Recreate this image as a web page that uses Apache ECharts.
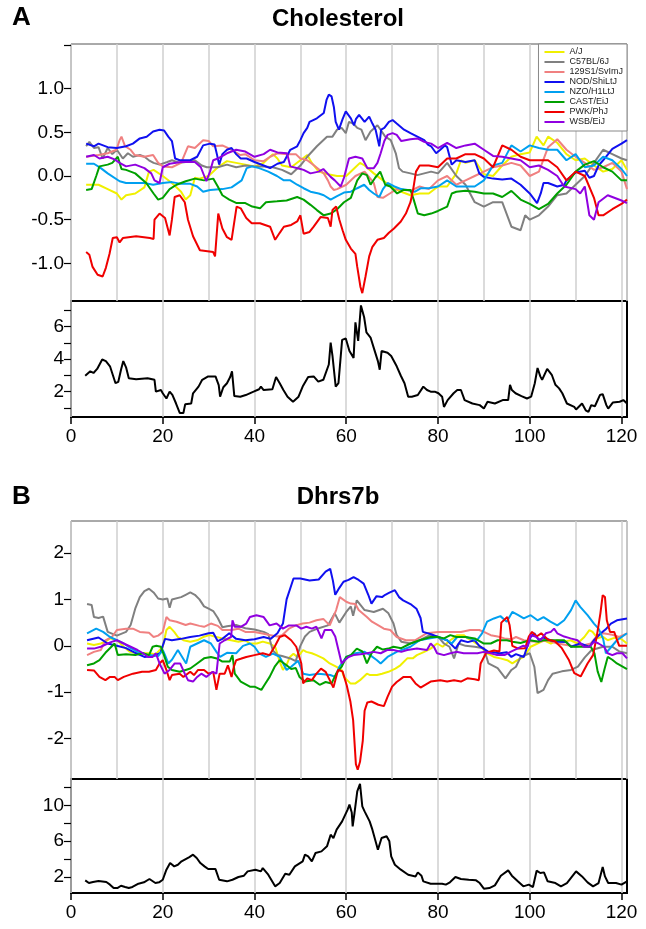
<!DOCTYPE html>
<html>
<head>
<meta charset="utf-8">
<script src="https://cdn.jsdelivr.net/npm/echarts@6/dist/echarts.min.js"></script>
<style>
  html, body { margin: 0; padding: 0; background: #fff; }
  #chart { width: 646px; height: 929px; }
</style>
</head>
<body>
<div id="chart"></div>
<script>
// founder strains (legend order)
const strainNames = ['A/J', 'C57BL/6J', '129S1/SvImJ', 'NOD/ShiLtJ', 'NZO/H1LtJ', 'CAST/EiJ', 'PWK/PhJ', 'WSB/EiJ'];
const strainColors = ['#F0F000', '#808080', '#F08080', '#1010F0', '#00A0F0', '#00A000', '#F00000', '#9000E0'];

// ---- Panel A: Cholesterol, founder effects ([Mb, effect]) ----
const ajA = [[3.3,-0.1],[6,-0.1],[8,-0.15],[10,-0.2],[11,-0.27],[12,-0.22],[14,-0.2],[16,-0.13],[17,0.05],[18,0.07],[20,0],[22,-0.08],[24,-0.18],[25,-0.27],[26,-0.22],[27,-0.02],[28,-0.03],[30,0],[32,0.1],[34,0.17],[36,0.15],[38,0.13],[40,0.11],[42,0.15],[44,0.25],[45,0.2],[46,0.12],[48,0.1],[50,0.18],[51.5,0.24],[52.5,0.15],[54,0.05],[56,0.02],[58,0],[60,0],[62,0.1],[63,0.15],[64,0.12],[66,0.03],[68,-0.05],[69.7,-0.12],[72,-0.18],[74,-0.22],[76,-0.2],[78,-0.2],[80,-0.12],[82,-0.12],[84,0.03],[85,0.18],[86,0.15],[88,0.18],[90,0.02],[92,0],[94,0.12],[96,0.22],[98,0.25],[100,0.27],[101.5,0.45],[103,0.35],[104,0.45],[106,0.38],[108,0.25],[110,0.18],[112,0.2],[114,0.12],[116,0.05],[118,0.08],[120,0.18],[121.2,0.07]];
const b6A = [[3.3,0.34],[4,0.39],[5,0.32],[6,0.33],[6.9,0.2],[8,0.32],[9,0.25],[10,0.3],[11.3,0.2],[12.4,0.26],[13.5,0.22],[15,0.24],[16,0.22],[17,0.18],[18,0.15],[19.3,0.13],[21,0.16],[22,0.18],[23.7,0.15],[25,0.16],[27,0.18],[28.5,0.12],[29.6,0.1],[32,0.1],[34,0.13],[36,0.1],[38,0.12],[40,0.11],[42,0.11],[44,0.1],[46,0.07],[48,0.02],[50,0.12],[51.5,0.22],[53.6,0.34],[55.8,0.45],[57,0.45],[58,0.53],[59,0.55],[59.9,0.49],[60.6,0.62],[61.5,0.6],[62.4,0.55],[63.3,0.53],[64.2,0.41],[65.3,0.51],[66.8,0.58],[67.6,0.52],[68.5,0.45],[69.7,0.41],[70.8,0.26],[71.5,0.09],[72.3,0.05],[74,0.03],[75.5,0.01],[77,0.03],[78.5,0.05],[80,0.03],[82,0.15],[84,0],[86,-0.1],[88,-0.3],[90,-0.35],[92,-0.3],[94,-0.3],[96,-0.58],[98,-0.62],[99,-0.45],[100,-0.5],[102,-0.45],[104,-0.35],[106,-0.22],[108,-0.2],[110,-0.1],[112,0],[114,0.15],[116,0.3],[118,0.25],[120,0.2],[121.2,0.18]];
const s129A = [[3.3,0.22],[6,0.24],[8,0.26],[9.9,0.3],[10.6,0.41],[11,0.45],[11.8,0.34],[13,0.3],[13.9,0.24],[16,0.22],[17.9,0.24],[19,0.15],[20,0.11],[22,0.1],[24,0.15],[25.5,0.34],[27,0.32],[28.8,0.41],[30,0.4],[31,0.34],[33,0.35],[35,0.3],[36.9,0.24],[38,0.25],[40,0.18],[42,0.17],[43.4,0.22],[45,0.26],[47,0.25],[49,0.25],[50,0.2],[51.5,0.18],[53,0.12],[55.1,0.03],[56,-0.05],[56.6,-0.12],[57.3,-0.16],[58,-0.15],[60,-0.1],[62,0],[64,0.05],[66,-0.08],[66.8,-0.24],[68,-0.25],[69.5,-0.2],[71,-0.15],[74,-0.17],[76,-0.12],[78,-0.15],[80,-0.05],[82,0],[84,-0.1],[86,-0.05],[88,0],[90,0.05],[92,0.1],[94,0.12],[96,0.15],[98,0.12],[100,0],[102,0.05],[104,0.33],[106,0.42],[108,0.3],[110,0.22],[112,0.15],[114,0.07],[116,0.1],[118,0.15],[120,0.05],[121.2,-0.15]];
const nodA = [[3.3,0.37],[5,0.34],[6,0.37],[8,0.33],[10,0.32],[12,0.34],[13.5,0.37],[15,0.43],[16.5,0.45],[17.9,0.51],[19.3,0.53],[20.3,0.52],[21.2,0.45],[22,0.4],[22.7,0.2],[23.7,0.18],[26,0.18],[27.5,0.22],[28.8,0.35],[30.3,0.37],[31.3,0.36],[31.8,0.25],[32.3,0.13],[33,0.25],[34,0.3],[35,0.32],[36,0.25],[37,0.2],[38.3,0.2],[40,0.16],[42,0.12],[43.4,0.09],[45,0.14],[46.4,0.16],[47.8,0.3],[49.3,0.34],[50,0.41],[50.7,0.49],[51.5,0.55],[52,0.62],[53.6,0.66],[55.1,0.72],[55.7,0.87],[56.2,0.93],[56.8,0.91],[57.3,0.79],[57.7,0.62],[58.4,0.53],[59.2,0.65],[59.9,0.74],[61,0.66],[61.7,0.58],[62.1,0.65],[62.8,0.7],[64,0.62],[65,0.68],[65.7,0.6],[66.4,0.53],[67.2,0.34],[67.6,0.53],[68.3,0.55],[69.3,0.62],[70.1,0.64],[71,0.6],[72.6,0.53],[74,0.49],[75.5,0.45],[77,0.41],[77.8,0.36],[78.5,0.34],[79.6,0.26],[80.5,0.3],[81.5,0.35],[82,0.33],[83,0.13],[84,0.18],[86,0.16],[88,0.18],[89,0.03],[90,-0.01],[92,-0.03],[94,-0.04],[96,-0.03],[98,-0.1],[100,-0.2],[101.6,-0.31],[102.4,-0.2],[103,-0.08],[104,-0.08],[106,-0.12],[107.5,-0.1],[108,-0.05],[110,0.04],[112,0.06],[113,-0.02],[114,0],[115,0.12],[116,0.18],[118,0.31],[120,0.37],[121.2,0.41]];
const nzoA = [[3.3,0.14],[5,0.14],[6.5,0.09],[8,0.03],[10.6,-0.06],[12,-0.08],[16,-0.08],[17.9,-0.1],[20,-0.08],[22,-0.07],[24,-0.09],[26,-0.09],[27.5,-0.12],[28.8,-0.18],[30.3,-0.16],[33,-0.15],[35,-0.13],[37.2,-0.05],[38.3,0.09],[39.5,0.11],[41,0.09],[43,0.05],[44.9,0.0],[46.4,-0.05],[47.8,-0.05],[49.3,-0.1],[50.7,-0.14],[52.2,-0.18],[54,-0.2],[55.1,-0.22],[56.6,-0.27],[58,-0.23],[59.5,-0.19],[61,-0.18],[62.4,-0.14],[63.9,-0.1],[65,-0.16],[66,-0.2],[67.2,-0.24],[68,-0.15],[69,-0.08],[70.5,-0.12],[72,-0.15],[73.4,-0.16],[75,-0.18],[76.3,-0.14],[78,-0.14],[80,-0.12],[82,-0.05],[84,-0.12],[86,-0.12],[88,-0.12],[90,-0.05],[92,0.12],[94,0.15],[96,0.35],[98,0.28],[100,0.35],[102,0.32],[104,0.3],[106,0.3],[108,0.18],[110,0.25],[112,0.1],[114,0.12],[116,0.22],[118,0.18],[120,0.08],[121.2,0]];
const castA = [[3.3,-0.16],[4.5,-0.15],[5.5,0],[6.2,0.11],[8,0.13],[9,0.15],[10.2,0.22],[11,0.08],[12,0.07],[14,0.03],[16.4,-0.08],[18,-0.2],[19,-0.27],[20,-0.25],[21.5,-0.15],[23,-0.1],[25,-0.06],[27,-0.03],[29,-0.05],[31,-0.03],[32,-0.12],[33,-0.22],[34.5,-0.27],[36.1,-0.31],[38,-0.31],[39.5,-0.35],[41.2,-0.37],[42.5,-0.3],[44.9,-0.29],[47,-0.28],[49.3,-0.24],[50.7,-0.27],[52.2,-0.33],[53.6,-0.39],[55.1,-0.45],[56.6,-0.43],[58,-0.38],[59.5,-0.3],[61,-0.25],[62.4,-0.05],[63.5,0.03],[64.5,0.01],[65.3,-0.1],[66.3,-0.02],[67.4,0.05],[68.5,-0.1],[69.6,-0.12],[71.1,-0.2],[72.5,-0.16],[74,-0.16],[74.7,-0.27],[75.6,-0.43],[77,-0.45],[78.5,-0.43],[80,-0.4],[82,-0.35],[83,-0.2],[84,-0.18],[86,-0.17],[88,-0.18],[90,-0.2],[92,-0.2],[94,-0.24],[96,-0.17],[98,-0.27],[100,-0.32],[102,-0.38],[104,-0.32],[106,-0.2],[108,-0.1],[110,0.05],[112,0.13],[114,0.17],[116,0.1],[118,0.05],[120,-0.05],[121.2,-0.05]];
const pwkA = [[3.3,-0.87],[4,-0.9],[4.7,-1.04],[5.8,-1.13],[6.9,-1.15],[7.6,-1.05],[8.4,-0.89],[9.1,-0.71],[10,-0.7],[10.6,-0.76],[11.3,-0.71],[14.2,-0.69],[17.2,-0.71],[18,-0.72],[18.2,-0.5],[19.3,-0.43],[20.5,-0.48],[21.5,-0.68],[22,-0.5],[22.6,-0.24],[23.7,-0.22],[24.8,-0.3],[25.5,-0.5],[26.6,-0.69],[28.1,-0.85],[31,-0.87],[31.4,-0.92],[32.1,-0.43],[33,-0.6],[34,-0.7],[35,-0.73],[36.1,-0.35],[37,-0.37],[38.2,-0.48],[39.4,-0.54],[41.2,-0.54],[43.4,-0.58],[44.5,-0.73],[45.5,-0.65],[46.4,-0.58],[48,-0.56],[49.3,-0.52],[50,-0.45],[50.7,-0.66],[52,-0.64],[52.9,-0.58],[54.4,-0.47],[56,-0.48],[56.6,-0.58],[57,-0.39],[57.8,-0.35],[58.5,-0.5],[59.2,-0.62],[59.9,-0.73],[61,-0.83],[62,-0.89],[62.4,-1.04],[63.1,-1.27],[63.5,-1.34],[64.2,-1.15],[65,-0.92],[65.7,-0.81],[66.8,-0.73],[68.2,-0.71],[69.3,-0.65],[70.4,-0.6],[71.9,-0.52],[73,-0.43],[74,-0.3],[74.6,-0.15],[75.2,0.05],[76,0.12],[78,0.12],[80,0.1],[82,0.2],[84,0.2],[86,0.25],[88,0.25],[90,0.2],[92,0.1],[94,0.35],[96,0.3],[98,0.22],[100,0.18],[102,0.18],[104,0.18],[106,0.1],[108,-0.05],[110,0.05],[112,0],[114,-0.25],[115,-0.45],[116,-0.45],[118,-0.38],[120,-0.32],[121.2,-0.27]];
const wsbA = [[3.3,0.22],[5,0.24],[6.2,0.2],[8,0.22],[9.5,0.19],[10.6,0.15],[12,0.11],[14,0.13],[16,0.09],[17.5,0.03],[18.2,-0.05],[19.3,-0.08],[20,0.1],[21.5,0.14],[24,0.16],[25.9,0.16],[27,0.16],[28.3,0.1],[29.5,-0.06],[30.3,0.05],[31,0.18],[32,0.2],[34,0.26],[36,0.3],[38,0.28],[40,0.22],[42,0.25],[43.4,0.3],[45,0.27],[47.1,0.26],[47.8,0.11],[50,0.08],[50.7,0.07],[52.2,0.03],[54,0.05],[55,0.08],[56.6,-0.01],[57.5,-0.05],[58.8,-0.12],[59.5,-0.02],[60.6,0.2],[62,0.22],[63.5,0.2],[64.6,0.09],[66,0.09],[66.8,0.15],[67.5,0.26],[68.3,0.4],[69,0.47],[70.1,0.49],[71,0.47],[72,0.4],[74,0.42],[75.5,0.43],[77,0.39],[78.5,0.37],[80,0.32],[82,0.38],[84,0.32],[86,0.35],[88,0.37],[90,0.3],[92,0.23],[94,0.22],[96,0.2],[98,0.18],[100,0.1],[102,0.12],[104,0.07],[106,0],[107.5,-0.12],[110,-0.15],[111,-0.2],[112,-0.12],[113,-0.45],[114,-0.5],[115,-0.3],[117,-0.22],[118,-0.24],[120,-0.28],[121.2,-0.31]];

// Panel A: LOD profile
const lodA = [[3.1,2.98],[3.5,2.9],[4.2,3.25],[4.9,3.15],[5.7,3.4],[6.8,3.98],[7.6,3.88],[8.5,3.56],[9.7,2.52],[10.3,2.6],[10.9,3.35],[11.4,3.88],[12,3.5],[12.6,2.83],[14.2,2.77],[16.7,2.83],[18.2,2.73],[18.5,2],[19.6,2.1],[20,1.9],[20.8,1.58],[21.5,2],[22.1,1.8],[22.9,1.27],[23.7,0.69],[24.5,0.69],[24.9,1.23],[26.2,1.27],[26.6,1.9],[27.8,2.31],[28.6,2.73],[29.9,2.94],[31.5,2.94],[32.2,2.4],[32.5,1.69],[33.2,2.27],[34,2.52],[34.7,2.9],[35.1,3.25],[35.6,1.73],[36.9,1.69],[38.1,1.79],[39.8,2],[41,2.15],[41.4,2.31],[42,2.1],[43.9,2.15],[44.7,2.9],[45.5,2.52],[46.3,2.1],[47.2,1.69],[48.4,1.38],[49.6,1.69],[50.5,2.31],[51.7,2.9],[52.9,2.94],[53.9,2.62],[55,2.73],[56.2,3.67],[56.6,5.02],[57,4.2],[57.7,2.31],[58.3,2.52],[59.1,5.19],[59.9,5.27],[60.7,4.5],[61.6,4.08],[62,6.27],[62.6,5.13],[63.2,7.31],[63.9,6.58],[64.4,5.65],[65.3,5.33],[66.1,4.6],[66.9,3.88],[67.3,3.35],[67.7,4.5],[69,4.4],[69.8,4.19],[71,3.56],[71.9,2.98],[72.7,2.52],[73.5,1.69],[74.3,1.69],[75.6,1.79],[76.8,2.31],[77.6,2.1],[78.4,2],[79.3,2],[80.1,1.9],[80.9,1.69],[81.3,1.06],[82.1,1.48],[83.4,1.9],[84.2,2.1],[85,2.1],[85.8,1.48],[87.5,1.27],[89.1,1.17],[90,0.96],[90.8,1.38],[92.4,1.27],[94.1,1.48],[95.3,1.48],[95.7,2.42],[96.1,2.1],[96.9,1.9],[98.2,1.73],[99.4,1.58],[100.3,1.69],[101.1,2.52],[101.7,3.46],[102.3,2.94],[102.7,2.73],[103.8,3.4],[104.8,3.04],[105.6,2.42],[106.4,2.2],[107.1,1.9],[108.1,1.27],[109.7,1.06],[110.1,0.9],[111.4,1.27],[112.2,0.85],[112.8,0.75],[113.4,1.17],[114.2,1.1],[115.3,1.79],[115.9,1.85],[116.7,1.17],[117.1,0.96],[118.1,1.33],[119.6,1.38],[120.4,1.48],[121.2,1.27]];

// ---- Panel B: Dhrs7b, founder effects ----
const ajB = [[3.5,0.05],[5,0.02],[6.5,0.05],[7.5,0.09],[8.5,0.16],[10,0.12],[11.5,-0.02],[12.8,-0.13],[14.5,-0.16],[17,-0.16],[18.5,-0.18],[20,-0.02],[20.8,0.34],[21.5,0.41],[22.5,0.3],[23.3,0.19],[24.5,0.12],[26,0.09],[27.5,0.12],[28.8,0.19],[30.2,0.23],[31.7,0.19],[33,0.16],[34.9,0.12],[36.5,0.09],[38,0.12],[39,0.05],[40.5,0.05],[41.8,0.09],[43.3,0.05],[44.5,-0.02],[45.5,-0.34],[46.2,-0.52],[47,-0.41],[47.7,-0.24],[48.5,-0.17],[49.3,-0.24],[50,-0.17],[50.6,-0.09],[51.3,-0.13],[52.5,-0.16],[53.5,-0.2],[55,-0.27],[56.4,-0.38],[57.8,-0.45],[59,-0.52],[59.5,-0.67],[60.9,-0.81],[62,-0.81],[63,-0.74],[64.5,-0.6],[65.2,-0.63],[66.7,-0.63],[67.8,-0.6],[69.2,-0.56],[70.7,-0.49],[71.8,-0.42],[73.3,-0.27],[74.5,-0.27],[75.4,-0.2],[77,-0.13],[78.4,-0.06],[79.8,0.05],[81,-0.02],[82.7,0.12],[84.2,0.23],[85.6,0.23],[86.5,0.16],[87.8,0.09],[89.3,-0.02],[90.7,-0.16],[92.2,-0.24],[93.6,-0.27],[95.1,-0.31],[96.2,-0.38],[97.3,-0.31],[98.7,-0.24],[100.2,-0.02],[101.7,0.05],[103.1,0.12],[104.6,0.05],[106,0.12],[107.5,0.09],[108.9,0.12],[110.4,0.05],[111.9,0.19],[113,0.34],[113.7,0.3],[114.8,0.16],[115.9,0.2],[117,0.12],[118.1,0.16],[119.2,0.19],[120.3,0.12],[121.2,0.05]];
const b6B = [[3.5,0.9],[4.5,0.88],[5,0.62],[6,0.6],[7,0.63],[8,0.3],[10,0.22],[12,0.3],[13,0.45],[14,0.8],[15,1.05],[16,1.18],[17,1.23],[18,1.15],[19,1.02],[20,1],[21,1.02],[21.5,0.82],[22,1],[24,1.05],[25,1.1],[26,1.15],[27,1.1],[28,1],[29,0.85],[30,0.8],[31,0.75],[32,0.6],[33,0.4],[34,0.42],[36,0.45],[38,0.38],[40,0.35],[42,0.3],[43,0.25],[44,-0.1],[45,-0.2],[46,-0.22],[48,-0.28],[49,-0.33],[50,0],[51,0.2],[52,0.3],[54,0.38],[56,0.44],[57.5,0.7],[58.5,0.5],[60,0.73],[61,0.85],[61.5,0.65],[62.3,0.98],[64,0.77],[66,0.73],[68,0.8],[69.2,0.7],[70.3,0.48],[71,0.23],[72,0.09],[74,0.05],[76,0.12],[78,0.22],[80,0.2],[81.3,0.05],[82.5,-0.02],[83.5,-0.27],[84.5,0.05],[86,0],[88,-0.02],[90,-0.05],[91,-0.38],[93,-0.48],[94.7,-0.7],[96,-0.52],[97,-0.45],[98,-0.24],[100,-0.16],[101,-0.45],[101.7,-1.02],[103,-0.95],[104,-0.74],[105,-0.6],[107,-0.55],[109,-0.52],[110.5,-0.45],[112,-0.25],[113.5,-0.09],[116,-0.02],[118,-0.02],[119.5,-0.12],[121.2,-0.16]];
const s129B = [[3.5,-0.2],[5,-0.13],[6.5,-0.09],[7.5,0.12],[9,0.2],[10,0.34],[12,0.37],[13.5,0.37],[15,0.3],[17,0.28],[18,0.19],[19,0.22],[20,0.3],[20.8,0.62],[21.5,0.55],[23,0.52],[25,0.45],[26,0.48],[28,0.43],[29,0.41],[30.5,0.48],[32,0.43],[33,0.34],[35,0.34],[36.5,0.37],[38,0.3],[40,0.3],[42,0.26],[43.5,0.23],[45,0.2],[46,0.23],[47.5,0.37],[49,0.44],[50.5,0.48],[52,0.5],[53.5,0.55],[55,0.58],[56.4,0.44],[57.8,0.77],[58.6,1.05],[60,0.95],[61,0.91],[62,0.9],[62.7,0.77],[64.5,0.62],[65.6,0.52],[67,0.44],[68.2,0.37],[69.6,0.34],[71,0.19],[73,0.12],[75,0.12],[77.5,0.27],[80,0.3],[83,0.3],[85,0.3],[87,0.34],[89,0.34],[90,0.3],[91.5,0.23],[93,0.2],[94.5,0.16],[96,0.14],[97,0.19],[98.7,0.12],[100,0.1],[102,0.09],[104,0.12],[106,0.05],[108,0.02],[110,-0.02],[112,0.02],[113.3,0.05],[114.8,0.23],[116,0.27],[118,0.24],[119.5,0.19],[121.2,0.27]];
const nodB = [[3.5,0.12],[6,0.18],[8,0.05],[10,0],[12,-0.05],[14,-0.15],[16,-0.24],[18,-0.22],[19.5,-0.15],[20.5,0.15],[22,0.12],[24,0.15],[26,0.19],[28,0.22],[30,0.27],[31,0.28],[32,0.1],[33,0.15],[34.5,0.27],[36,0.15],[38,0.12],[40,0.14],[42,0.19],[43.5,0.15],[45,0.27],[46.2,0.48],[47,1],[48,1.3],[48.5,1.45],[50,1.45],[52,1.41],[54,1.43],[55.5,1.6],[56.5,1.66],[57.1,1.4],[57.6,1.1],[58.5,1.25],[59.4,1.38],[60.5,1.42],[61.6,1.48],[62.7,1.42],[63.8,1.34],[64.8,1.1],[65.5,0.91],[66.6,1.07],[67.8,1.05],[68.5,1.1],[69.3,1.14],[70.6,1.2],[71.5,1.05],[72.4,0.98],[74,0.9],[75.3,0.8],[76.2,0.6],[76.7,0.3],[78.5,0.25],[80,0.19],[82,0.12],[83.8,-0.06],[85,0.12],[86.5,0.08],[88,0.12],[89,0],[91,-0.13],[93.5,-0.16],[95,-0.14],[96,-0.24],[97,-0.18],[98.7,-0.24],[99.5,0],[100.2,0.19],[101,0.27],[102,0.12],[103,0.18],[104.5,0.12],[106,0.09],[108,0.08],[109,-0.02],[111,0.05],[113,-0.02],[114,0.12],[115.5,0.27],[116.5,0.35],[117.7,0.48],[119,0.55],[121.2,0.59]];
const nzoB = [[3.5,0.27],[5.5,0.37],[7,0.3],[8.5,0.19],[10,0.12],[11.5,0.05],[13,-0.05],[14.5,-0.13],[17,-0.2],[19,-0.22],[20,-0.09],[20.5,-0.2],[21.2,-0.38],[22,-0.3],[23.3,-0.09],[24.3,-0.25],[25.1,-0.38],[26,-0.02],[27.5,0.05],[29,0.12],[30.5,0.05],[31.7,-0.13],[32.5,-0.24],[34,-0.15],[36,-0.16],[37.5,0],[39,0.05],[40,-0.02],[41,-0.16],[42.5,-0.24],[44,-0.17],[45.5,-0.24],[47,-0.52],[48,-0.45],[49.5,-0.32],[50.6,-0.6],[52,-0.63],[54,-0.6],[56.5,-0.63],[57.6,-0.67],[58.5,-0.45],[60,-0.24],[61,-0.2],[62,-0.16],[64,-0.13],[65.2,-0.2],[66.7,-0.31],[67.5,-0.38],[69,-0.24],[71,-0.13],[74,-0.02],[76,0.12],[78,0.16],[80,0.19],[82,0.12],[83,0.05],[84.2,0.19],[86,0.19],[88.5,0.12],[89.6,0.27],[90.7,0.52],[92.2,0.59],[93.6,0.64],[95,0.52],[96.2,0.73],[97.5,0.66],[98.7,0.59],[100.2,0.66],[101.7,0.55],[103,0.62],[104.5,0.52],[106,0.44],[107.5,0.55],[109,0.77],[110,0.98],[111,0.84],[112.6,0.66],[114,0.48],[115,0.37],[116,0.15],[116.6,-0.16],[117.8,-0.02],[119,0.12],[121.2,0.27]];
const castB = [[3.5,-0.42],[5,-0.38],[6.2,-0.31],[7.5,-0.15],[8.8,-0.02],[9.5,0.05],[10.2,-0.2],[12,-0.18],[14,-0.2],[15.7,-0.16],[17,-0.2],[17.8,-0.02],[18.6,0],[19.6,-0.02],[20.4,-0.24],[21.1,-0.45],[22,-0.52],[23.7,-0.56],[25,-0.52],[26,-0.49],[27.5,-0.38],[29,-0.27],[30.5,-0.24],[32,-0.28],[33,-0.34],[34.6,-0.34],[35.2,-0.2],[35.7,-0.6],[37,-0.77],[39,-0.88],[40,-0.88],[41.5,-0.95],[42.2,-0.84],[43.3,-0.67],[44.4,-0.45],[45.5,-0.31],[47,-0.42],[48,-0.5],[49,-0.48],[49.8,-0.67],[51,-0.77],[52.8,-0.74],[54.2,-0.84],[55.5,-0.78],[56.8,-0.81],[57.8,-0.6],[59,-0.45],[60,-0.24],[61,-0.2],[62.3,-0.06],[63.5,-0.12],[64.5,-0.38],[65.5,-0.16],[66.7,-0.02],[68,-0.08],[69.2,-0.06],[70.3,-0.02],[72,-0.05],[74,0.05],[76,0.12],[78.4,0.19],[80,0.19],[81.3,0.16],[82.7,0.23],[84,0.19],[86,0.19],[88,0.16],[90,0.05],[91.5,0.05],[93,0.12],[95,0.12],[96.2,0.09],[98,0.06],[100,0.12],[102,0.09],[103,0.12],[105,0.12],[107.5,0.12],[109,-0.02],[111,-0.02],[113.3,-0.02],[114.1,-0.16],[114.8,-0.55],[115.6,-0.78],[116.3,-0.5],[117,-0.24],[118,-0.3],[119,-0.38],[121.2,-0.5]];
const pwkB = [[3.5,-0.52],[5,-0.53],[6.2,-0.67],[7.5,-0.74],[8.5,-0.67],[9.5,-0.67],[10.2,-0.74],[11.5,-0.67],[13.5,-0.6],[15.5,-0.56],[17,-0.56],[18.5,-0.52],[19.3,-0.38],[20,-0.31],[20.8,-0.52],[21.5,-0.74],[22,-0.63],[23.7,-0.6],[24.5,-0.67],[26,-0.56],[26.8,-0.63],[27.7,-0.52],[29,-0.52],[30,-0.6],[31,-0.56],[31.7,-0.95],[32.4,-0.6],[33.5,-0.6],[34.2,-0.42],[35,-0.67],[35.5,-0.45],[36,-0.31],[37,-0.28],[38.2,-0.24],[40,-0.2],[41.8,-0.16],[43.3,-0.2],[44.5,0],[45.5,0.19],[46.6,0.23],[48,0.12],[49.1,-0.02],[50.2,-0.38],[50.6,-0.81],[51.5,-0.7],[52.5,-0.74],[53.5,-0.6],[54.5,-0.49],[55.5,-0.56],[56.4,-0.74],[57.2,-0.9],[58.2,-0.52],[59.2,-0.55],[60.1,-0.85],[60.9,-1.2],[61.5,-1.6],[62.1,-2.55],[62.5,-2.67],[63,-2.5],[63.6,-2.05],[64,-1.4],[64.6,-1.22],[65.5,-1.2],[67,-1.27],[68.2,-1.3],[69,-1.1],[70,-0.88],[71,-0.78],[72.5,-0.67],[74,-0.67],[75.1,-0.81],[76.2,-0.9],[78.4,-0.77],[80.5,-0.74],[82,-0.77],[83.5,-0.74],[85,-0.77],[86.4,-0.7],[88,-0.72],[88.9,-0.74],[89.3,-0.38],[90.5,-0.15],[92.2,-0.1],[93.4,-0.12],[93.8,0.5],[95.1,0.62],[95.6,0.45],[96.2,0],[97.5,-0.06],[99,-0.05],[99.8,0.2],[100.5,0.3],[101.5,0.2],[102.5,0.27],[104,0.13],[105.5,0.1],[107,-0.05],[108.5,-0.3],[109.7,-0.59],[111.1,-0.66],[112.6,-0.38],[113.8,-0.2],[114.6,0.2],[115.4,0.7],[115.9,1.09],[116.4,1.05],[116.8,0.55],[117.5,0.3],[118.4,0.3],[119.5,0],[121.2,0]];
const wsbB = [[3.5,-0.06],[5,-0.06],[6.5,-0.02],[8,0.05],[9,0.09],[10,0.12],[11.5,0.05],[13,-0.02],[14.5,-0.09],[15.7,-0.16],[16.8,-0.24],[17.8,-0.24],[18.5,-0.16],[19.3,-0.38],[20.4,-0.6],[21.5,-0.52],[22.6,-0.38],[23.8,-0.38],[24.8,-0.6],[25.5,-0.74],[26.6,-0.77],[27.5,-0.67],[28.4,-0.6],[29.5,-0.67],[30.9,-0.56],[31.7,-0.6],[32.4,0.05],[33.5,0.12],[34.9,0.19],[35.2,0.55],[35.7,0.41],[37,0.41],[38.2,0.48],[39,0.62],[40.4,0.66],[42,0.62],[43.3,0.44],[44.8,0.48],[46.2,0.37],[47.5,0.44],[49.1,0.44],[50.2,0.37],[51.3,0.41],[52.5,0.37],[53.5,0.41],[54.6,0.16],[55.3,0.34],[56.8,0.34],[57.6,0.2],[58.3,-0.09],[59,-0.38],[59.8,-0.3],[60.5,-0.24],[61.6,-0.2],[63.1,-0.18],[64.5,-0.16],[66,-0.13],[67.5,-0.16],[68.9,-0.09],[70.3,-0.09],[72,-0.13],[73.3,-0.09],[75.4,-0.06],[77.6,-0.09],[78.4,0.05],[79.1,-0.02],[79.8,-0.16],[81.3,-0.2],[82.7,-0.16],[84,-0.13],[85.6,-0.16],[88.6,-0.16],[90,-0.13],[91.5,-0.16],[92.9,-0.2],[94.5,-0.2],[95.8,-0.13],[97.3,-0.06],[98.5,0],[99.5,-0.02],[100.2,0.23],[101.2,0.2],[102.4,0.12],[103.5,0.27],[104.6,0.3],[105.3,0.37],[106,0.27],[107.5,0.2],[108.9,0.16],[110.4,0.12],[111.8,-0.02],[113,-0.02],[114.1,0.09],[115,0.05],[116.2,-0.02],[117,-0.16],[118,-0.2],[119,-0.16],[120.2,-0.16],[121.2,-0.27]];

// Panel B: LOD profile
const lodB = [[3.1,1.63],[3.9,1.33],[4.8,1.44],[6,1.55],[7.7,1.44],[8.5,1.15],[9.3,0.77],[10.1,0.77],[10.9,1.03],[11.8,0.89],[12.6,0.77],[13.4,0.89],[14.7,1.26],[15.9,1.41],[17.1,1.78],[18.4,1.33],[19.2,1.41],[20,1.7],[20.8,2.82],[21.6,3.56],[22.5,3.19],[23.3,3.37],[24.1,3.75],[25.8,4.23],[26.6,4.49],[27.4,4.12],[28.2,3.56],[29.1,3.19],[29.9,2.89],[31.5,2.89],[32.3,1.7],[34,1.52],[35.2,1.7],[36.5,2],[37.7,2.15],[38.5,2.63],[40.2,2.82],[41.4,2.63],[41.8,3],[43,2.26],[44.5,0.96],[45.5,1.33],[46.7,2.37],[47.6,2.26],[48.8,3.19],[50.5,3.75],[51,4.49],[51.7,4.3],[52.5,3.75],[53.3,4.68],[54.6,4.86],[55.8,5.42],[56.6,6.72],[57.2,6.35],[57.9,7.28],[59.1,8.2],[60.3,9.51],[60.7,10.07],[61.2,9.2],[61.4,7.65],[61.8,9.14],[62.4,11.55],[63,12.4],[63.5,9.88],[64,9.32],[65.1,8.2],[65.7,7.28],[66.5,5.79],[66.9,5.05],[67.7,6.35],[68.8,6.54],[69.4,5.98],[69.8,4.3],[70.6,3.37],[71.9,2.82],[73.5,2.26],[75.1,2.07],[75.6,2.52],[76.4,2.15],[76.8,1.52],[78.4,1.26],[80.9,1.26],[81.7,1.15],[82.6,1.41],[83.8,2],[85,1.78],[86.7,1.7],[88.3,1.63],[89.1,1.33],[90,0.7],[91.2,0.77],[92.4,1.07],[93.7,2.15],[95.3,2.74],[96.1,2.15],[97.4,1.52],[98.6,0.96],[99.8,1.15],[100.7,0.88],[101.5,2.71],[102.3,2.45],[103.1,2.52],[103.9,1.52],[105.6,1.33],[106.8,0.96],[108.1,1.33],[110.1,2.63],[111.4,2.07],[112.6,1.4],[113.8,0.96],[115,1.33],[115.9,3.12],[116.4,2.07],[117.1,1.33],[118.8,1.33],[120,1.15],[121.2,1.52]];

const effectsA = [ajA, b6A, s129A, nodA, nzoA, castA, pwkA, wsbA];
const effectsB = [ajB, b6B, s129B, nodB, nzoB, castB, pwkB, wsbB];

// tick / label positions
const xTicks = [0, 20, 40, 60, 80, 100, 120];
const yTicksA = [-1, -0.5, 0, 0.5, 1, 1.5];
const yLabelsA = [-1, -0.5, 0, 0.5, 1];
const lodTicksA = [1, 2, 3, 4, 5, 6, 7];
const lodLabelsA = [2, 4, 6];
const yTicksB = [-2, -1, 0, 1, 2];
const lodTicksB = [2, 4, 6, 8, 10, 12];
const lodLabelsB = [2, 6, 10];

const FONT = '"Liberation Sans", Arial, sans-serif';

var dom = document.getElementById('chart');
var myChart = echarts.init(dom, null, { renderer: 'canvas' });

// panel boxes
var boxes = [
    { top: 44, height: 257, thin: true },
    { top: 301, height: 116, thin: false },
    { top: 521, height: 258, thin: true },
    { top: 779, height: 114, thin: false }
];

var grids = boxes.map(function (b) {
    return {
        left: 71, right: 19, top: b.top, height: b.height,
        show: true,
        borderColor: b.thin ? '#555' : '#000',
        borderWidth: b.thin ? 1 : 2,
        backgroundColor: 'transparent'
    };
});

var xAxes = boxes.map(function (b, i) {
    var bottom = !b.thin;
    return {
        type: 'value', gridIndex: i, min: 0, max: 121.2, interval: 10,
        axisLine: { show: false },
        axisTick: bottom ? { show: true, length: 7, customValues: xTicks, lineStyle: { color: '#000', width: 1.5 } } : { show: false },
        axisLabel: bottom ? {
            show: true, customValues: xTicks, margin: 10,
            fontSize: 19, color: '#000', fontFamily: FONT
        } : { show: false },
        splitLine: { show: true, lineStyle: { color: '#cfcfcf', width: 1.5 } }
    };
});

function yAxis(i, min, max, ticks, labels, fmt) {
    return {
        type: 'value', gridIndex: i, min: min, max: max,
        axisLine: { show: false },
        axisTick: { show: true, length: 7, customValues: ticks, lineStyle: { color: '#000', width: 1.2 } },
        axisLabel: {
            show: true, customValues: labels, margin: 7,
            fontSize: 19, color: '#000', fontFamily: FONT,
            formatter: fmt
        },
        splitLine: { show: false }
    };
}

var yAxes = [
    yAxis(0, -1.43, 1.51, yTicksA, yLabelsA, function (v) { return v.toFixed(1); }),
    yAxis(1, 0.44, 7.58, lodTicksA, lodLabelsA, function (v) { return String(v); }),
    yAxis(2, -2.87, 2.69, yTicksB, yTicksB, function (v) { return String(v); }),
    yAxis(3, 0.22, 12.93, lodTicksB, lodLabelsB, function (v) { return String(v); })
];

var series = [];
function addStrains(list, axisIdx) {
    list.forEach(function (data, k) {
        series.push({
            name: strainNames[k], type: 'line',
            xAxisIndex: axisIdx, yAxisIndex: axisIdx,
            data: data, symbol: 'none', smooth: false,
            lineStyle: { color: strainColors[k], width: 2 },
            itemStyle: { color: strainColors[k] },
            silent: true
        });
    });
}
addStrains(effectsA, 0);
addStrains(effectsB, 2);
[[lodA, 1], [lodB, 3]].forEach(function (p) {
    series.push({
        name: 'LOD', type: 'line',
        xAxisIndex: p[1], yAxisIndex: p[1],
        data: p[0], symbol: 'none',
        lineStyle: { color: '#000', width: 2 },
        itemStyle: { color: '#000' },
        silent: true
    });
});

var option = {
    animation: false,
    backgroundColor: '#fff',
    textStyle: { fontFamily: FONT },
    grid: grids,
    xAxis: xAxes,
    yAxis: yAxes,
    legend: {
        data: strainNames,
        orient: 'vertical',
        right: 19, top: 44,
        icon: 'rect',
        itemGap: 0, itemWidth: 20, itemHeight: 2,
        padding: [3, 4, 4, 6],
        backgroundColor: '#fff',
        borderColor: '#888', borderWidth: 1, borderRadius: 0,
        selectedMode: false,
        textStyle: { fontSize: 9, lineHeight: 10, color: '#222', fontFamily: FONT }
    },
    graphic: [
        { type: 'text', x: 12, y: 18, style: { text: 'A', font: 'bold 26px ' + FONT, fill: '#000', textVerticalAlign: 'middle' } },
        { type: 'text', x: 338, y: 19, style: { text: 'Cholesterol', font: 'bold 24px ' + FONT, fill: '#000', textAlign: 'center', textVerticalAlign: 'middle' } },
        { type: 'text', x: 12, y: 497, style: { text: 'B', font: 'bold 26px ' + FONT, fill: '#000', textVerticalAlign: 'middle' } },
        { type: 'text', x: 338, y: 497, style: { text: 'Dhrs7b', font: 'bold 24px ' + FONT, fill: '#000', textAlign: 'center', textVerticalAlign: 'middle' } }
    ],
    series: series
};

myChart.setOption(option, true);
</script>
</body>
</html>
